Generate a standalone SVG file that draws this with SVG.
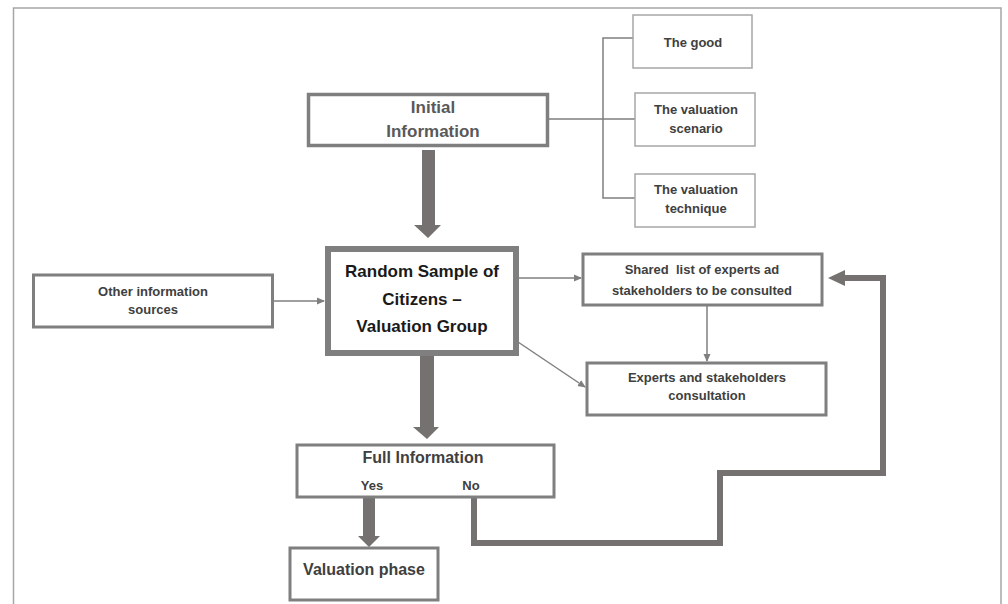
<svg xmlns="http://www.w3.org/2000/svg" width="1008" height="604" viewBox="0 0 1008 604">
<defs>
<style>
text{font-family:"Liberation Sans",Arial,sans-serif;font-weight:bold;text-anchor:middle;fill:#404040}
.s{font-size:13px}
.m{font-size:17px}
.b{fill:#1a1a1a}
.box{fill:#fff;stroke:#7f7f7f;stroke-width:3}
.thin{fill:#fff;stroke:#a6a6a6;stroke-width:1.5}
.ln{fill:none;stroke:#7f7f7f;stroke-width:1.5}
.thick{fill:none;stroke:#767171;stroke-width:6}
.big{fill:#767171}
</style>
<marker id="ah" markerWidth="8" markerHeight="8" refX="7" refY="4" orient="auto" markerUnits="userSpaceOnUse">
<path d="M0,0.5 L8,4 L0,7.5 Z" fill="#7f7f7f"/>
</marker>
</defs>
<rect x="0" y="0" width="1008" height="604" fill="#fff"/>
<path d="M13.5,604 V8 H1001 V604" fill="none" stroke="#a6a6a6" stroke-width="1.5"/>

<g id="connectors">
<path class="ln" d="M549,119 H635 M633,38 H603 V198 H635"/>
<path class="big" d="M422,150 H435 V225 H441 L428,238 L414,225 H422 Z"/>
<path class="big" d="M420,355 H434 V427 H439 L427,439 L413,427 H420 Z"/>
<path class="big" d="M363,498 H375 V536 H380 L369,547 L358,536 H363 Z"/>
<line class="ln" x1="273" y1="301" x2="324" y2="301" marker-end="url(#ah)"/>
<line class="ln" x1="519" y1="278" x2="581" y2="278" marker-end="url(#ah)"/>
<line class="ln" x1="707" y1="306" x2="707" y2="361" marker-end="url(#ah)"/>
<line class="ln" x1="518" y1="342" x2="585" y2="387" marker-end="url(#ah)"/>
<path class="thick" d="M474,498 V543 H720 V473 H883 V278 H842"/>
<path class="big" d="M845,270 L828,278 L845,286 Z"/>
</g>

<g id="the-good">
<rect class="thin" x="633" y="15" width="119" height="53"/>
<text class="s" x="693" y="47">The good</text>
</g>
<g id="valuation-scenario">
<rect class="thin" x="635" y="93" width="120" height="53"/>
<text class="s" x="696" y="114">The valuation</text>
<text class="s" x="696" y="133">scenario</text>
</g>
<g id="valuation-technique">
<rect class="thin" x="635" y="174" width="120" height="53"/>
<text class="s" x="696" y="194">The valuation</text>
<text class="s" x="696" y="213">technique</text>
</g>
<g id="initial-information">
<rect class="box" x="308.5" y="94.5" width="239" height="51" style="stroke-width:3.5"/>
<text class="m" x="433" y="113" style="fill:#595959">Initial</text>
<text class="m" x="433" y="137" style="fill:#595959">Information</text>
</g>
<g id="random-sample">
<rect class="box" x="328" y="249" width="188" height="104" style="stroke-width:6"/>
<text class="m b" x="422" y="277">Random Sample of</text>
<text class="m b" x="422" y="305">Citizens –</text>
<text class="m b" x="422" y="332">Valuation Group</text>
</g>
<g id="other-sources">
<rect class="box" x="33.5" y="275" width="239" height="52"/>
<text class="s" x="153" y="296">Other information</text>
<text class="s" x="153" y="314">sources</text>
</g>
<g id="shared-list">
<rect class="box" x="583" y="254" width="239" height="51"/>
<text class="s" x="702" y="274">Shared &#160;list of experts ad</text>
<text class="s" x="702" y="295">stakeholders to be consulted</text>
</g>
<g id="experts-consultation">
<rect class="box" x="587" y="363" width="239" height="52"/>
<text class="s" x="707" y="382">Experts and stakeholders</text>
<text class="s" x="707" y="400">consultation</text>
</g>
<g id="full-information">
<rect class="box" x="297" y="445" width="257" height="52"/>
<text x="423" y="463" style="font-size:16px">Full Information</text>
<text class="s" x="372" y="490">Yes</text>
<text class="s" x="471" y="490">No</text>
</g>
<g id="valuation-phase">
<rect class="box" x="290" y="548" width="148" height="52"/>
<text x="364" y="575" style="font-size:16px">Valuation phase</text>
</g>
</svg>
